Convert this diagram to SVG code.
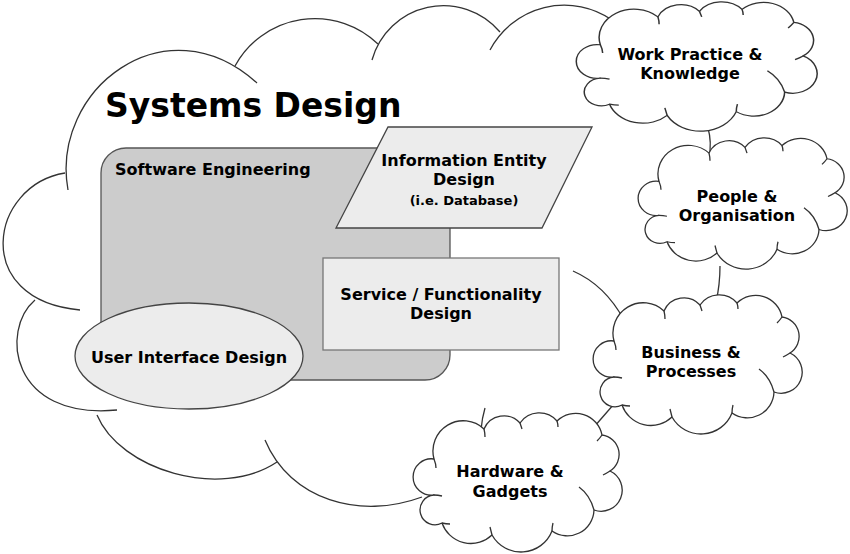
<svg xmlns="http://www.w3.org/2000/svg" xmlns:xlink="http://www.w3.org/1999/xlink" width="850" height="554" viewBox="0 0 850 554">
<style>
text{font-family:"DejaVu Sans","Verdana","Liberation Sans",sans-serif;font-weight:bold;fill:#000}
.lbl{font-size:16px;text-anchor:middle}
.big{fill:none;stroke:#333;stroke-width:1.3}
.cl{fill:#fff;stroke:#333;stroke-width:1.3;stroke-linejoin:round}
.tk{fill:none;stroke:#333;stroke-width:1.3}
.con{fill:none;stroke:#333;stroke-width:1.3}
</style>
<defs>
<g id="cloudShape">
<path class="cl" d="M22,46 A30.3,30.3 0 0 1 72,16 A21.7,21.7 0 0 1 108,10 A23.5,23.5 0 0 1 145,8 A26.8,26.8 0 0 1 190,22 A19.6,19.6 0 0 1 198,58 A21.1,21.1 0 0 1 182,97 A26.7,26.7 0 0 1 140,118 A33.3,33.3 0 0 1 80,122 A30.6,30.6 0 0 1 30,110 A14.9,14.9 0 1 1 22,82 A18.2,18.2 0 1 1 22,46 Z"/>
<path class="tk" d="M22,46 Q24,51 24,55 M72,16 Q73,20 73,24 M108,10 Q109,13 110,16 M145,8 Q146,11 146,14 M190,22 Q188,25 185,28 M198,58 Q195,60 191,62 M182,97 Q178,82 167,74 M140,118 Q140,114 141,110 M80,122 Q79,118 78,114 M30,110 Q34,111 38,111 M22,82 Q26,82 30,83"/>
</g>
</defs>

<g id="systems-design">
<path class="big" d="M68,190 C50,90 165,0 257,83"/>
<path class="big" d="M235,66 A91,91 0 0 1 378,44"/>
<path class="big" d="M372,60 A74,74 0 0 1 500,32"/>
<path class="big" d="M490,50 A84,84 0 0 1 612,20"/>
<path class="big" d="M65,173 C-10,185 -30,300 80,310"/>
<path class="big" d="M35,300 C0,330 10,420 117,410"/>
<path class="big" d="M97,415 C120,470 220,500 277,462"/>
<path class="big" d="M265,440 C290,500 360,520 422,497"/>
<path class="big" d="M573,271 Q605,285 624,320"/>
<path class="big" d="M485,408 Q482,418 481,430"/>
<text x="105" y="117" style="font-size:33px">Systems Design</text>
</g>

<g id="software-engineering">
<rect x="101" y="148" width="349" height="232" rx="25" ry="25" fill="#cccccc" stroke="#555" stroke-width="1.3"/>
<text x="115" y="175" style="font-size:16px">Software Engineering</text>
</g>

<g id="information-entity">
<polygon points="388,127 592,127 542,228 336,228" fill="#ececec" stroke="#444" stroke-width="1.3"/>
<text class="lbl" x="464" y="166">Information Entity</text>
<text class="lbl" x="464" y="185">Design</text>
<text class="lbl" x="464" y="205" style="font-size:13px">(i.e. Database)</text>
</g>

<g id="service-functionality">
<rect x="323" y="258" width="236" height="92" fill="#ececec" stroke="#777" stroke-width="1.3"/>
<text class="lbl" x="441" y="300">Service / Functionality</text>
<text class="lbl" x="441" y="319">Design</text>
</g>

<g id="user-interface">
<ellipse cx="189" cy="356" rx="114" ry="53" fill="#ececec" stroke="#444" stroke-width="1.3"/>
<text class="lbl" x="189" y="363">User Interface Design</text>
</g>

<g id="connectors">
<path class="con" d="M708,128 Q712,142 709,158"/>
<path class="con" d="M720,266 Q720,285 716,302"/>
<path class="con" d="M614,404 L594,427"/>
</g>

<g id="work-practice">
<use xlink:href="#cloudShape" transform="translate(575,2) scale(1.152,0.929)"/>
<text class="lbl" x="690" y="60">Work Practice &amp;</text>
<text class="lbl" x="690" y="79">Knowledge</text>
</g>

<g id="people-organisation">
<use xlink:href="#cloudShape" transform="translate(637,138) scale(1,0.943)"/>
<text class="lbl" x="737" y="202">People &amp;</text>
<text class="lbl" x="737" y="221">Organisation</text>
</g>

<g id="business-processes">
<use xlink:href="#cloudShape" transform="translate(592,295)"/>
<text class="lbl" x="691" y="358">Business &amp;</text>
<text class="lbl" x="691" y="377">Processes</text>
</g>

<g id="hardware-gadgets">
<use xlink:href="#cloudShape" transform="translate(412,413)"/>
<text class="lbl" x="510" y="477">Hardware &amp;</text>
<text class="lbl" x="510" y="497">Gadgets</text>
</g>
</svg>
